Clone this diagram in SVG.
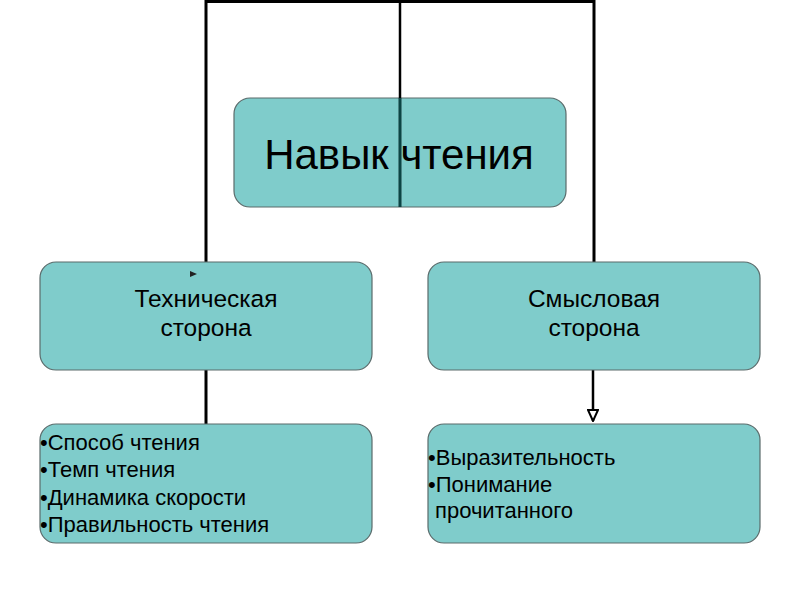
<svg xmlns="http://www.w3.org/2000/svg" width="800" height="600" viewBox="0 0 800 600">
<style>
.box{fill:#7fcccb;stroke:#5a6b6b;stroke-width:1.2}
.ln{fill:none;stroke:#000;stroke-width:3}
text{font-family:"Liberation Sans",Arial,sans-serif;fill:#000}
.t1{font-size:42px;text-anchor:middle}
.t2{font-size:24.5px;text-anchor:middle}
.t3{font-size:22px}
</style>
<defs>
<marker id="arr" markerWidth="14" markerHeight="12" refX="13" refY="6" orient="auto" markerUnits="userSpaceOnUse" viewBox="0 0 14 12">
<path d="M2,1 L2,11 L13,6 Z" fill="#fff" stroke="#000" stroke-width="2"/>
</marker>
</defs>
<rect width="800" height="600" fill="#fff"/>
<g id="connectors">
<path class="ln" d="M206,262 V1.5 H594 V262"/>
<path class="ln" d="M206,370 V424"/>
<path class="ln" d="M593,370 V421" marker-end="url(#arr)" style="stroke-width:2.5"/>
</g>
<g id="n-main">
<rect class="box" x="234" y="98" width="332" height="109" rx="16"/>
<text class="t1" x="399" y="169">Навык чтения</text>
</g>
<g id="center-line">
<path d="M400,0 V207" stroke="#000" stroke-width="2.5"/>
<path d="M400,98 V207" stroke="#0b4444" stroke-width="2.5"/>
</g>
<g id="n-tech">
<rect class="box" x="40" y="262" width="332" height="108" rx="16"/>
<text class="t2" x="206" y="307">Техническая</text>
<text class="t2" x="206" y="336">сторона</text>
<path d="M190,271 L197,274 L190,277 Z" fill="#222"/>
</g>
<g id="n-sem">
<rect class="box" x="428" y="262" width="332" height="108" rx="16"/>
<text class="t2" x="594" y="307">Смысловая</text>
<text class="t2" x="594" y="336">сторона</text>
</g>
<g id="n-tech-list">
<rect class="box" x="40" y="424" width="332" height="119" rx="16"/>
<text class="t3" x="40" y="450">•Способ чтения</text>
<text class="t3" x="40" y="477">•Темп чтения</text>
<text class="t3" x="40" y="505">•Динамика скорости</text>
<text class="t3" x="40" y="532">•Правильность чтения</text>
</g>
<g id="n-sem-list">
<rect class="box" x="428" y="424" width="332" height="119" rx="16"/>
<text class="t3" x="428" y="465">•Выразительность</text>
<text class="t3" x="428" y="492">•Понимание</text>
<text class="t3" x="435" y="518">прочитанного</text>
</g>
</svg>
